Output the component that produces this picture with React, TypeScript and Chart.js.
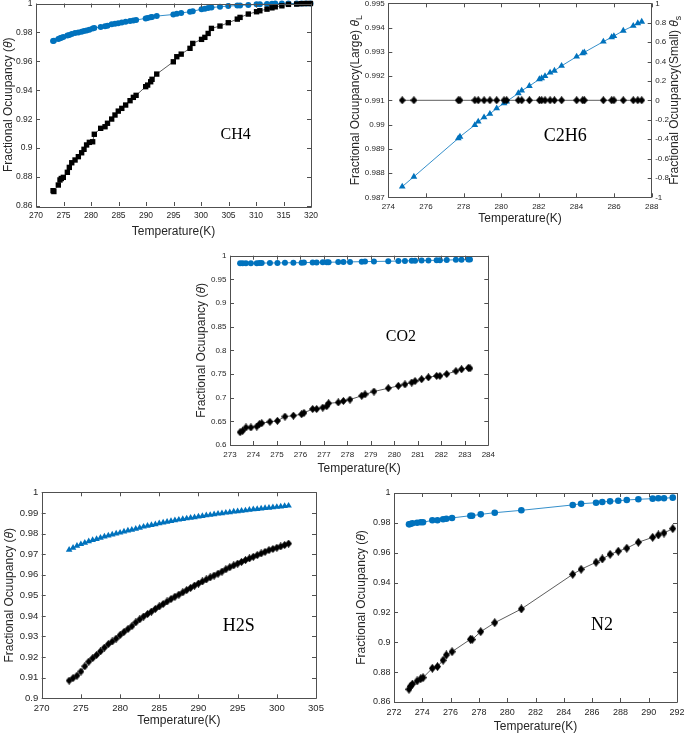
import { useEffect, useRef } from "react";
import { Chart, registerables } from "chart.js";
Chart.register(...registerables);

// ---------------- DATA ----------------
// CH4
const ch4Temp = [273.1, 273.25, 274.06, 274.36, 274.6, 274.97, 275.7, 276.06, 276.5, 277.1, 277.7, 278.3, 278.73, 279.2, 279.7, 280.3, 280.6, 281.76, 282.55, 283.0, 283.76, 284.36, 284.96, 285.6, 286.3, 287.1, 287.7, 288.2, 289.94, 290.3, 290.85, 291.1, 291.95, 294.97, 295.6, 296.4, 298.0, 298.5, 300.1, 300.7, 301.3, 301.9, 303.45, 304.96, 306.6, 307.1, 308.6, 310.1, 310.7, 312.0, 312.9, 313.5, 314.7, 315.9, 317.4, 318.3, 319.1, 319.9];
const ch4ThetaS = [0.8706, 0.87, 0.8745, 0.878, 0.879, 0.8798, 0.8833, 0.8867, 0.8899, 0.8918, 0.8941, 0.8968, 0.8992, 0.9022, 0.904, 0.9044, 0.9096, 0.9137, 0.9148, 0.9172, 0.9201, 0.9229, 0.9256, 0.9275, 0.9298, 0.9328, 0.9351, 0.9365, 0.9425, 0.9436, 0.9459, 0.9476, 0.9512, 0.9597, 0.9632, 0.965, 0.969, 0.9724, 0.9752, 0.9766, 0.9793, 0.9828, 0.9844, 0.9867, 0.9892, 0.9904, 0.9927, 0.9943, 0.995, 0.9961, 0.997, 0.9977, 0.9984, 0.9994, 0.9996, 0.9999, 1.0, 1.0];
const ch4ThetaL = [0.974, 0.9742, 0.9755, 0.976, 0.9764, 0.9769, 0.9778, 0.9783, 0.9789, 0.9796, 0.98, 0.9805, 0.981, 0.9814, 0.9819, 0.9827, 0.983, 0.9838, 0.9843, 0.9847, 0.9856, 0.986, 0.9864, 0.9869, 0.9874, 0.9879, 0.9882, 0.9886, 0.9897, 0.9899, 0.9905, 0.9907, 0.9913, 0.9924, 0.993, 0.9935, 0.9943, 0.9947, 0.996, 0.9964, 0.9969, 0.9972, 0.9978, 0.9982, 0.9986, 0.9987, 0.999, 0.9994, 0.9995, 0.9997, 0.9999, 1.0, 1.0, 1.0, 1.0, 1.0, 1.0, 1.0];
const ch4XTicks = [270, 275, 280, 285, 290, 295, 300, 305, 310, 315, 320];
const ch4YTicks = [0.86, 0.88, 0.9, 0.92, 0.94, 0.96, 0.98, 1];

// C2H6
const c2h6Temp = [274.74, 275.36, 277.72, 277.81, 278.6, 278.78, 279.09, 279.4, 279.76, 280.15, 280.29, 280.91, 281.09, 281.5, 282.03, 282.15, 282.33, 282.6, 282.83, 283.21, 284.01, 284.33, 284.42, 285.43, 285.87, 285.99, 286.49, 287.02, 287.26, 287.47];
const c2h6ThetaL = [0.98744, 0.98785, 0.98943, 0.9895, 0.98998, 0.99012, 0.9903, 0.99044, 0.99067, 0.99088, 0.99095, 0.99129, 0.9914, 0.99159, 0.99187, 0.99191, 0.992, 0.99214, 0.99222, 0.99242, 0.9928, 0.99294, 0.99298, 0.99342, 0.9936, 0.99365, 0.99387, 0.99407, 0.99418, 0.99424];
const c2h6ThetaS = [0, 0, 0, 0, 0, 0, 0, 0, 0, 0, 0, 0, 0, 0, 0, 0, 0, 0, 0, 0, 0, 0, 0, 0, 0, 0, 0, 0, 0, 0];
const c2h6XTicks = [274, 276, 278, 280, 282, 284, 286, 288];
const c2h6YLTicks = [0.987, 0.988, 0.989, 0.99, 0.991, 0.992, 0.993, 0.994, 0.995];
const c2h6YSTicks = [-1, -0.8, -0.6, -0.4, -0.2, 0, 0.2, 0.4, 0.6, 0.8, 1];

// CO2
const co2Temp = [273.43, 273.54, 273.68, 273.89, 274.14, 274.25, 274.35, 274.7, 275.02, 275.34, 275.7, 276.05, 276.15, 276.52, 276.69, 276.95, 277.12, 277.2, 277.61, 277.83, 278.11, 278.61, 278.75, 279.13, 279.74, 280.17, 280.45, 280.74, 280.88, 281.16, 281.45, 281.8, 281.94, 282.23, 282.62, 282.86, 283.15, 283.22];
const co2ThetaS = [0.627, 0.63, 0.637, 0.637, 0.639, 0.644, 0.646, 0.649, 0.651, 0.66, 0.662, 0.665, 0.668, 0.676, 0.676, 0.679, 0.682, 0.688, 0.69, 0.693, 0.696, 0.704, 0.707, 0.713, 0.72, 0.725, 0.728, 0.732, 0.735, 0.739, 0.743, 0.746, 0.746, 0.75, 0.756, 0.76, 0.763, 0.762];
const co2ThetaL = [0.984, 0.984, 0.9841, 0.9842, 0.9843, 0.9844, 0.9844, 0.9846, 0.9848, 0.985, 0.9851, 0.9853, 0.9854, 0.9857, 0.9858, 0.986, 0.9861, 0.9862, 0.9865, 0.9867, 0.9869, 0.9874, 0.9875, 0.9878, 0.9883, 0.9887, 0.989, 0.9893, 0.9894, 0.9897, 0.99, 0.9903, 0.9905, 0.9908, 0.9913, 0.9916, 0.992, 0.9921];
const co2XTicks = [273, 274, 275, 276, 277, 278, 279, 280, 281, 282, 283, 284];
const co2YTicks = [0.6, 0.65, 0.7, 0.75, 0.8, 0.85, 0.9, 0.95, 1];

// H2S
const h2sTemp = [273.5, 274.0, 274.5, 275.0, 275.5, 276.0, 276.5, 277.0, 277.5, 278.0, 278.5, 279.0, 279.5, 280.0, 280.5, 281.0, 281.5, 282.0, 282.5, 283.0, 283.5, 284.0, 284.5, 285.0, 285.5, 286.0, 286.5, 287.0, 287.5, 288.0, 288.5, 289.0, 289.5, 290.0, 290.5, 291.0, 291.5, 292.0, 292.5, 293.0, 293.5, 294.0, 294.5, 295.0, 295.5, 296.0, 296.5, 297.0, 297.5, 298.0, 298.5, 299.0, 299.5, 300.0, 300.5, 301.0, 301.5];
const h2sThetaS = [0.9086, 0.9098, 0.911, 0.913, 0.9155, 0.9178, 0.9195, 0.921, 0.9228, 0.9246, 0.9263, 0.9276, 0.929, 0.9307, 0.9322, 0.9336, 0.935, 0.9368, 0.9383, 0.9397, 0.9409, 0.9421, 0.9434, 0.9446, 0.9458, 0.947, 0.9482, 0.9493, 0.9503, 0.9514, 0.9525, 0.9536, 0.9547, 0.9557, 0.9567, 0.9577, 0.9587, 0.9596, 0.9605, 0.9615, 0.9626, 0.9636, 0.9645, 0.9654, 0.9662, 0.9671, 0.9679, 0.9687, 0.9695, 0.9703, 0.9711, 0.9719, 0.9725, 0.9731, 0.9737, 0.9744, 0.9751];
const h2sThetaL = [0.9721, 0.973, 0.974, 0.9748, 0.9755, 0.9762, 0.9768, 0.9773, 0.9779, 0.9785, 0.979, 0.9795, 0.98, 0.9804, 0.9809, 0.9814, 0.9818, 0.9823, 0.9828, 0.9833, 0.9837, 0.9841, 0.9845, 0.9849, 0.9853, 0.9857, 0.986, 0.9864, 0.9867, 0.987, 0.9873, 0.9876, 0.9879, 0.9882, 0.9885, 0.9888, 0.989, 0.9893, 0.9896, 0.9898, 0.9901, 0.9903, 0.9906, 0.9908, 0.991, 0.9912, 0.9915, 0.9917, 0.9919, 0.9921, 0.9923, 0.9925, 0.9927, 0.9929, 0.9931, 0.9933, 0.9935];
const h2sXTicks = [270, 275, 280, 285, 290, 295, 300, 305];
const h2sYTicks = [0.9, 0.91, 0.92, 0.93, 0.94, 0.95, 0.96, 0.97, 0.98, 0.99, 1];

// N2
const n2Temp = [273.06, 273.15, 273.3, 273.63, 273.89, 274.05, 274.71, 275.07, 275.47, 275.7, 276.1, 277.4, 277.52, 278.13, 279.12, 281.0, 284.63, 285.22, 286.28, 286.72, 287.27, 287.85, 288.45, 289.27, 290.28, 290.68, 291.08, 291.7];
const n2ThetaS = [0.8685, 0.8705, 0.872, 0.8741, 0.8756, 0.8763, 0.8826, 0.8837, 0.888, 0.8915, 0.8937, 0.902, 0.9018, 0.9071, 0.9131, 0.9223, 0.9455, 0.9489, 0.9536, 0.9558, 0.9589, 0.961, 0.963, 0.967, 0.9703, 0.9719, 0.9732, 0.9761];
const n2ThetaL = [0.979, 0.9792, 0.9797, 0.9801, 0.9804, 0.9804, 0.9817, 0.9817, 0.9824, 0.9828, 0.9833, 0.9848, 0.9848, 0.9857, 0.9868, 0.9884, 0.992, 0.9928, 0.9935, 0.994, 0.9944, 0.9948, 0.9953, 0.9958, 0.9962, 0.9965, 0.9965, 0.9969];
const n2XTicks = [272, 274, 276, 278, 280, 282, 284, 286, 288, 290, 292];
const n2YTicks = [0.86, 0.88, 0.9, 0.92, 0.94, 0.96, 0.98, 1];

// ---------------- STYLE ----------------
const FONT = '"Liberation Sans", Arial, Helvetica, sans-serif';
const SERIF = '"Liberation Serif", "Times New Roman", serif';
const TEXT = "#262626";
const AXIS = "#505050";
const BLUE = "#0072BD";
const BLACK = "#000000";

type Seg = { t: string; italic?: boolean; sub?: boolean };
type Marker = { kind: "circle" | "rect" | "triangle" | "diamond"; r?: number; w?: number; h?: number };
type Series = { xs: number[]; ys: number[]; color: string; line: string; marker: Marker; axis?: string };
type Panel = {
  box: { left: number; top: number; width: number; height: number };
  plot: { l: number; t: number; r: number; b: number };
  xTicks: number[];
  yTicks: number[];
  y2Ticks?: number[];
  tickSize: number;
  xPad: number;
  xTitleY: number;
  yTitleX: number;
  yTitle: Seg[];
  y2TitleX?: number;
  y2Title?: Seg[];
  label: { text: string; x: number; y: number; size: number };
  series: Series[];
};

const thetaTitle: Seg[] = [{ t: "Fractional Ocuupancy (" }, { t: "θ", italic: true }, { t: ")" }];

const PANELS: Panel[] = [
  {
    box: { left: 0, top: -12, width: 335, height: 252 },
    plot: { l: 36, t: 3.5, r: 311, b: 206 },
    xTicks: ch4XTicks, yTicks: ch4YTicks, tickSize: 8.5, xPad: 5,
    xTitleY: 232, yTitleX: 9, yTitle: thetaTitle,
    label: { text: "CH4", x: 306.3, y: 0.909, size: 16 },
    series: [
      { xs: ch4Temp, ys: ch4ThetaS, color: BLACK, line: "#333", marker: { kind: "rect", r: 3.8 } },
      { xs: ch4Temp, ys: ch4ThetaL, color: BLUE, line: BLUE, marker: { kind: "circle", r: 3 } },
    ],
  },
  {
    box: { left: 340, top: -12, width: 355, height: 242 },
    plot: { l: 388.3, t: 3.3, r: 651.7, b: 197.3 },
    xTicks: c2h6XTicks, yTicks: c2h6YLTicks, y2Ticks: c2h6YSTicks, tickSize: 8, xPad: 4.5,
    xTitleY: 219, yTitleX: 356,
    yTitle: [{ t: "Fractional Ocuupancy(Large) " }, { t: "θ", italic: true }, { t: "L", sub: true }],
    y2TitleX: 675,
    y2Title: [{ t: "Fractional Ocuupancy(Small) " }, { t: "θ", italic: true }, { t: "s", sub: true }],
    label: { text: "C2H6", x: 283.4, y: 0.98953, size: 18 },
    series: [
      { xs: c2h6Temp, ys: c2h6ThetaS, color: BLACK, line: "#333", marker: { kind: "diamond", w: 7, h: 8 }, axis: "y2" },
      { xs: c2h6Temp, ys: c2h6ThetaL, color: BLUE, line: BLUE, marker: { kind: "triangle", r: 3.9 } },
    ],
  },
  {
    box: { left: 170, top: 230, width: 340, height: 250 },
    plot: { l: 230, t: 255.7, r: 488.3, b: 445 },
    xTicks: co2XTicks, yTicks: co2YTicks, tickSize: 8, xPad: 5,
    xTitleY: 469, yTitleX: 202, yTitle: thetaTitle,
    label: { text: "CO2", x: 280.28, y: 0.8282, size: 16 },
    series: [
      { xs: co2Temp, ys: co2ThetaS, color: BLACK, line: "#333", marker: { kind: "diamond", w: 7, h: 8 } },
      { xs: co2Temp, ys: co2ThetaL, color: BLUE, line: BLUE, marker: { kind: "circle", r: 3 } },
    ],
  },
  {
    box: { left: 0, top: 470, width: 335, height: 265 },
    plot: { l: 41.7, t: 492.3, r: 316, b: 698.3 },
    xTicks: h2sXTicks, yTicks: h2sYTicks, tickSize: 9.5, xPad: 4.5,
    xTitleY: 721, yTitleX: 10, yTitle: thetaTitle,
    label: { text: "H2S", x: 295.15, y: 0.9352, size: 18 },
    series: [
      { xs: h2sTemp, ys: h2sThetaS, color: BLACK, line: "#333", marker: { kind: "diamond", w: 7, h: 8 } },
      { xs: h2sTemp, ys: h2sThetaL, color: BLUE, line: BLUE, marker: { kind: "triangle", r: 3.8 } },
    ],
  },
  {
    box: { left: 340, top: 470, width: 360, height: 265 },
    plot: { l: 394, t: 493, r: 677, b: 702 },
    xTicks: n2XTicks, yTicks: n2YTicks, tickSize: 9, xPad: 5,
    xTitleY: 727, yTitleX: 362, yTitle: thetaTitle,
    label: { text: "N2", x: 286.7, y: 0.9116, size: 18 },
    series: [
      { xs: n2Temp, ys: n2ThetaS, color: BLACK, line: "#333", marker: { kind: "diamond", w: 7, h: 9 } },
      { xs: n2Temp, ys: n2ThetaL, color: BLUE, line: BLUE, marker: { kind: "circle", r: 3.3 } },
    ],
  },
];

// ---------------- HELPERS ----------------
const fmt = (v: number | string) => String(parseFloat(Number(v).toFixed(4)));

function makeDiamond(w: number, h: number, color: string) {
  const c = document.createElement("canvas");
  c.width = w;
  c.height = h;
  const g = c.getContext("2d")!;
  g.fillStyle = color;
  g.beginPath();
  g.moveTo(w / 2, 0);
  g.lineTo(w, h / 2);
  g.lineTo(w / 2, h);
  g.lineTo(0, h / 2);
  g.closePath();
  g.fill();
  return c;
}

function drawRich(ctx: CanvasRenderingContext2D, segs: Seg[], cx: number, cy: number, size: number, rotate: boolean) {
  ctx.save();
  ctx.translate(cx, cy);
  if (rotate) ctx.rotate(-Math.PI / 2);
  const fontFor = (s: Seg) => `${s.italic ? "italic " : ""}${s.sub ? size * 0.72 : size}px ${FONT}`;
  let total = 0;
  const widths = segs.map((s) => {
    ctx.font = fontFor(s);
    const w = ctx.measureText(s.t).width;
    total += w;
    return w;
  });
  let x = -total / 2;
  ctx.textBaseline = "middle";
  ctx.textAlign = "left";
  ctx.fillStyle = TEXT;
  segs.forEach((s, i) => {
    ctx.font = fontFor(s);
    ctx.fillText(s.t, x, s.sub ? size * 0.28 : 0);
    x += widths[i];
  });
  ctx.restore();
}

function axisScale(ticks: number[], position: string, size: number, pad: number, fit: (s: any) => void) {
  return {
    type: "linear",
    position,
    min: ticks[0],
    max: ticks[ticks.length - 1],
    afterBuildTicks: (s: any) => {
      s.ticks = ticks.map((v) => ({ value: v }));
    },
    afterFit: fit,
    ticks: {
      autoSkip: false,
      maxRotation: 0,
      minRotation: 0,
      padding: pad,
      color: TEXT,
      font: { family: FONT, size },
      callback: (v: number) => fmt(v),
    },
    grid: { display: false, drawTicks: false },
    border: { display: false },
  };
}

function buildChart(canvas: HTMLCanvasElement, p: Panel) {
  const { box, plot } = p;
  const yW = plot.l - box.left;
  const xH = box.top + box.height - plot.b;
  const padTop = plot.t - box.top;
  const rightW = box.left + box.width - plot.r;
  const ox = box.left;
  const oy = box.top;

  const scales: any = {
    x: axisScale(p.xTicks, "bottom", p.tickSize, p.xPad, (s: any) => { s.height = xH; }),
    y: axisScale(p.yTicks, "left", p.tickSize, 3.5, (s: any) => { s.width = yW; }),
  };
  if (p.y2Ticks) {
    scales.y2 = axisScale(p.y2Ticks, "right", p.tickSize, 3.5, (s: any) => { s.width = rightW; });
  }

  const datasets = p.series.map((s) => {
    let pointStyle: any = s.marker.kind;
    let radius = s.marker.r ?? 4;
    if (s.marker.kind === "diamond") {
      pointStyle = makeDiamond(s.marker.w!, s.marker.h!, s.color);
      radius = 4;
    }
    return {
      data: s.xs.map((x, i) => ({ x, y: s.ys[i] })),
      yAxisID: s.axis ?? "y",
      showLine: true,
      borderColor: s.line,
      borderWidth: 0.8,
      backgroundColor: s.color,
      pointBackgroundColor: s.color,
      pointBorderColor: s.color,
      pointBorderWidth: 0,
      pointRadius: radius,
      pointHoverRadius: radius,
      pointStyle,
      tension: 0,
      clip: false,
    };
  });

  const plugin = {
    id: "matlabAxes",
    afterDraw(chart: any) {
      const ctx: CanvasRenderingContext2D = chart.ctx;
      const a = chart.chartArea;
      const xs = chart.scales.x;
      const ys = chart.scales.y;
      const y2 = chart.scales.y2;
      const TL = 4;
      ctx.save();
      ctx.strokeStyle = AXIS;
      ctx.lineWidth = 1;
      ctx.beginPath();
      ctx.rect(Math.round(a.left) + 0.5, Math.round(a.top) + 0.5, Math.round(a.right - a.left), Math.round(a.bottom - a.top));
      ctx.stroke();
      ctx.beginPath();
      xs.ticks.forEach((t: any) => {
        const px = Math.round(xs.getPixelForValue(t.value)) + 0.5;
        ctx.moveTo(px, a.bottom);
        ctx.lineTo(px, a.bottom - TL);
        ctx.moveTo(px, a.top);
        ctx.lineTo(px, a.top + TL);
      });
      ys.ticks.forEach((t: any) => {
        const py = Math.round(ys.getPixelForValue(t.value)) + 0.5;
        ctx.moveTo(a.left, py);
        ctx.lineTo(a.left + TL, py);
        if (!y2) {
          ctx.moveTo(a.right, py);
          ctx.lineTo(a.right - TL, py);
        }
      });
      if (y2) {
        y2.ticks.forEach((t: any) => {
          const py = Math.round(y2.getPixelForValue(t.value)) + 0.5;
          ctx.moveTo(a.right, py);
          ctx.lineTo(a.right - TL, py);
        });
      }
      ctx.stroke();
      ctx.restore();

      // axis titles
      const midX = (plot.l + plot.r) / 2 - ox;
      const midY = (plot.t + plot.b) / 2 - oy;
      drawRich(ctx, [{ t: "Temperature(K)" }], midX, p.xTitleY - oy, 12, false);
      drawRich(ctx, p.yTitle, p.yTitleX - ox, midY, 12, true);
      if (p.y2Title && p.y2TitleX !== undefined) drawRich(ctx, p.y2Title, p.y2TitleX - ox, midY, 12, true);

      // gas label
      ctx.save();
      ctx.font = `${p.label.size}px ${SERIF}`;
      ctx.fillStyle = BLACK;
      ctx.textAlign = "center";
      ctx.textBaseline = "middle";
      ctx.fillText(p.label.text, xs.getPixelForValue(p.label.x), ys.getPixelForValue(p.label.y));
      ctx.restore();
    },
  };

  return new Chart(canvas, {
    type: "line",
    data: { datasets } as any,
    options: {
      responsive: false,
      animation: false,
      devicePixelRatio: 1,
      events: [],
      layout: { padding: { top: padTop, left: 0, bottom: 0, right: p.y2Ticks ? 0 : rightW } },
      plugins: { legend: { display: false }, tooltip: { enabled: false }, title: { display: false } },
      scales,
    } as any,
    plugins: [plugin],
  });
}

export default function App() {
  const refs = useRef<(HTMLCanvasElement | null)[]>([]);
  useEffect(() => {
    const charts = PANELS.map((p, i) => buildChart(refs.current[i]!, p));
    return () => charts.forEach((c) => c.destroy());
  }, []);
  return (
    <div style={{ position: "absolute", left: 0, top: 0, width: 685, height: 735, overflow: "hidden", background: "#fff" }}>
      {PANELS.map((p, i) => (
        <canvas
          key={i}
          ref={(el) => {
            refs.current[i] = el;
          }}
          width={p.box.width}
          height={p.box.height}
          style={{ position: "absolute", left: p.box.left, top: p.box.top, width: p.box.width, height: p.box.height }}
        />
      ))}
    </div>
  );
}
